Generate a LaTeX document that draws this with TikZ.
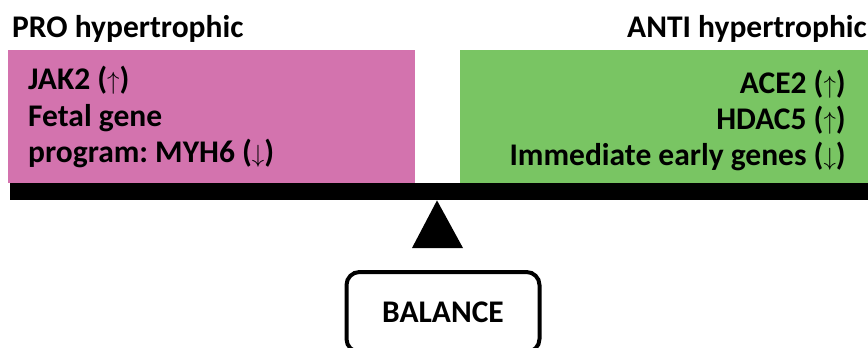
\documentclass[tikz,border=0pt]{standalone}
\usepackage{fontspec}
\setmainfont{Carlito}
\frenchspacing
\definecolor{procol}{RGB}{211,115,174}
\definecolor{anticol}{RGB}{121,197,99}
\newcommand{\up}{($\uparrow$)}
\newcommand{\down}{($\downarrow$)}
\tikzset{
  txt/.style={inner sep=0, font=\fontsize{31.5}{38}\selectfont\bfseries},
  panel/.style={inner sep=0, draw=none, rectangle}
}
\begin{document}
\begin{tikzpicture}[x=1pt, y=-1pt]
  \useasboundingbox (0,0) rectangle (868,348);
  % panels
  \node[panel, fill=procol, minimum width=407, minimum height=133, anchor=north west] (pro) at (8,50) {};
  \node[panel, fill=anticol, minimum width=408, minimum height=133, anchor=north west] (anti) at (460,50) {};
  \node[panel, fill=black, minimum width=858, minimum height=17, anchor=north west] (beam) at (10,183) {};
  % pivot
  \fill (beam.south -| 437,0) -- (463,248) -- (412,248) -- cycle;
  % titles
  \node[txt, anchor=base west] (protitle) at (12,37) {PRO hypertrophic};
  \node[txt, anchor=base east] (antititle) at (867,37) {ANTI hypertrophic};
  % left list
  \node[txt, anchor=base west] (jak) at (28,89) {JAK2 \up};
  \node[txt, anchor=base west] (fetal) at (28,126) {Fetal gene};
  \node[txt, anchor=base west] (myh) at (28,162) {program: MYH6 \down};
  % right list
  \node[txt, anchor=base east] (ace) at (846,93) {ACE2 \up};
  \node[txt, anchor=base east] (hdac) at (846,129) {HDAC5 \up};
  \node[txt, anchor=base east] (ieg) at (846,165) {Immediate early genes \down};
  % balance label
  \node[txt, draw, line width=4, rounded corners=13, minimum width=193, minimum height=80, anchor=north] (bal) at (443,270) {BALANCE};
\end{tikzpicture}
\end{document}
